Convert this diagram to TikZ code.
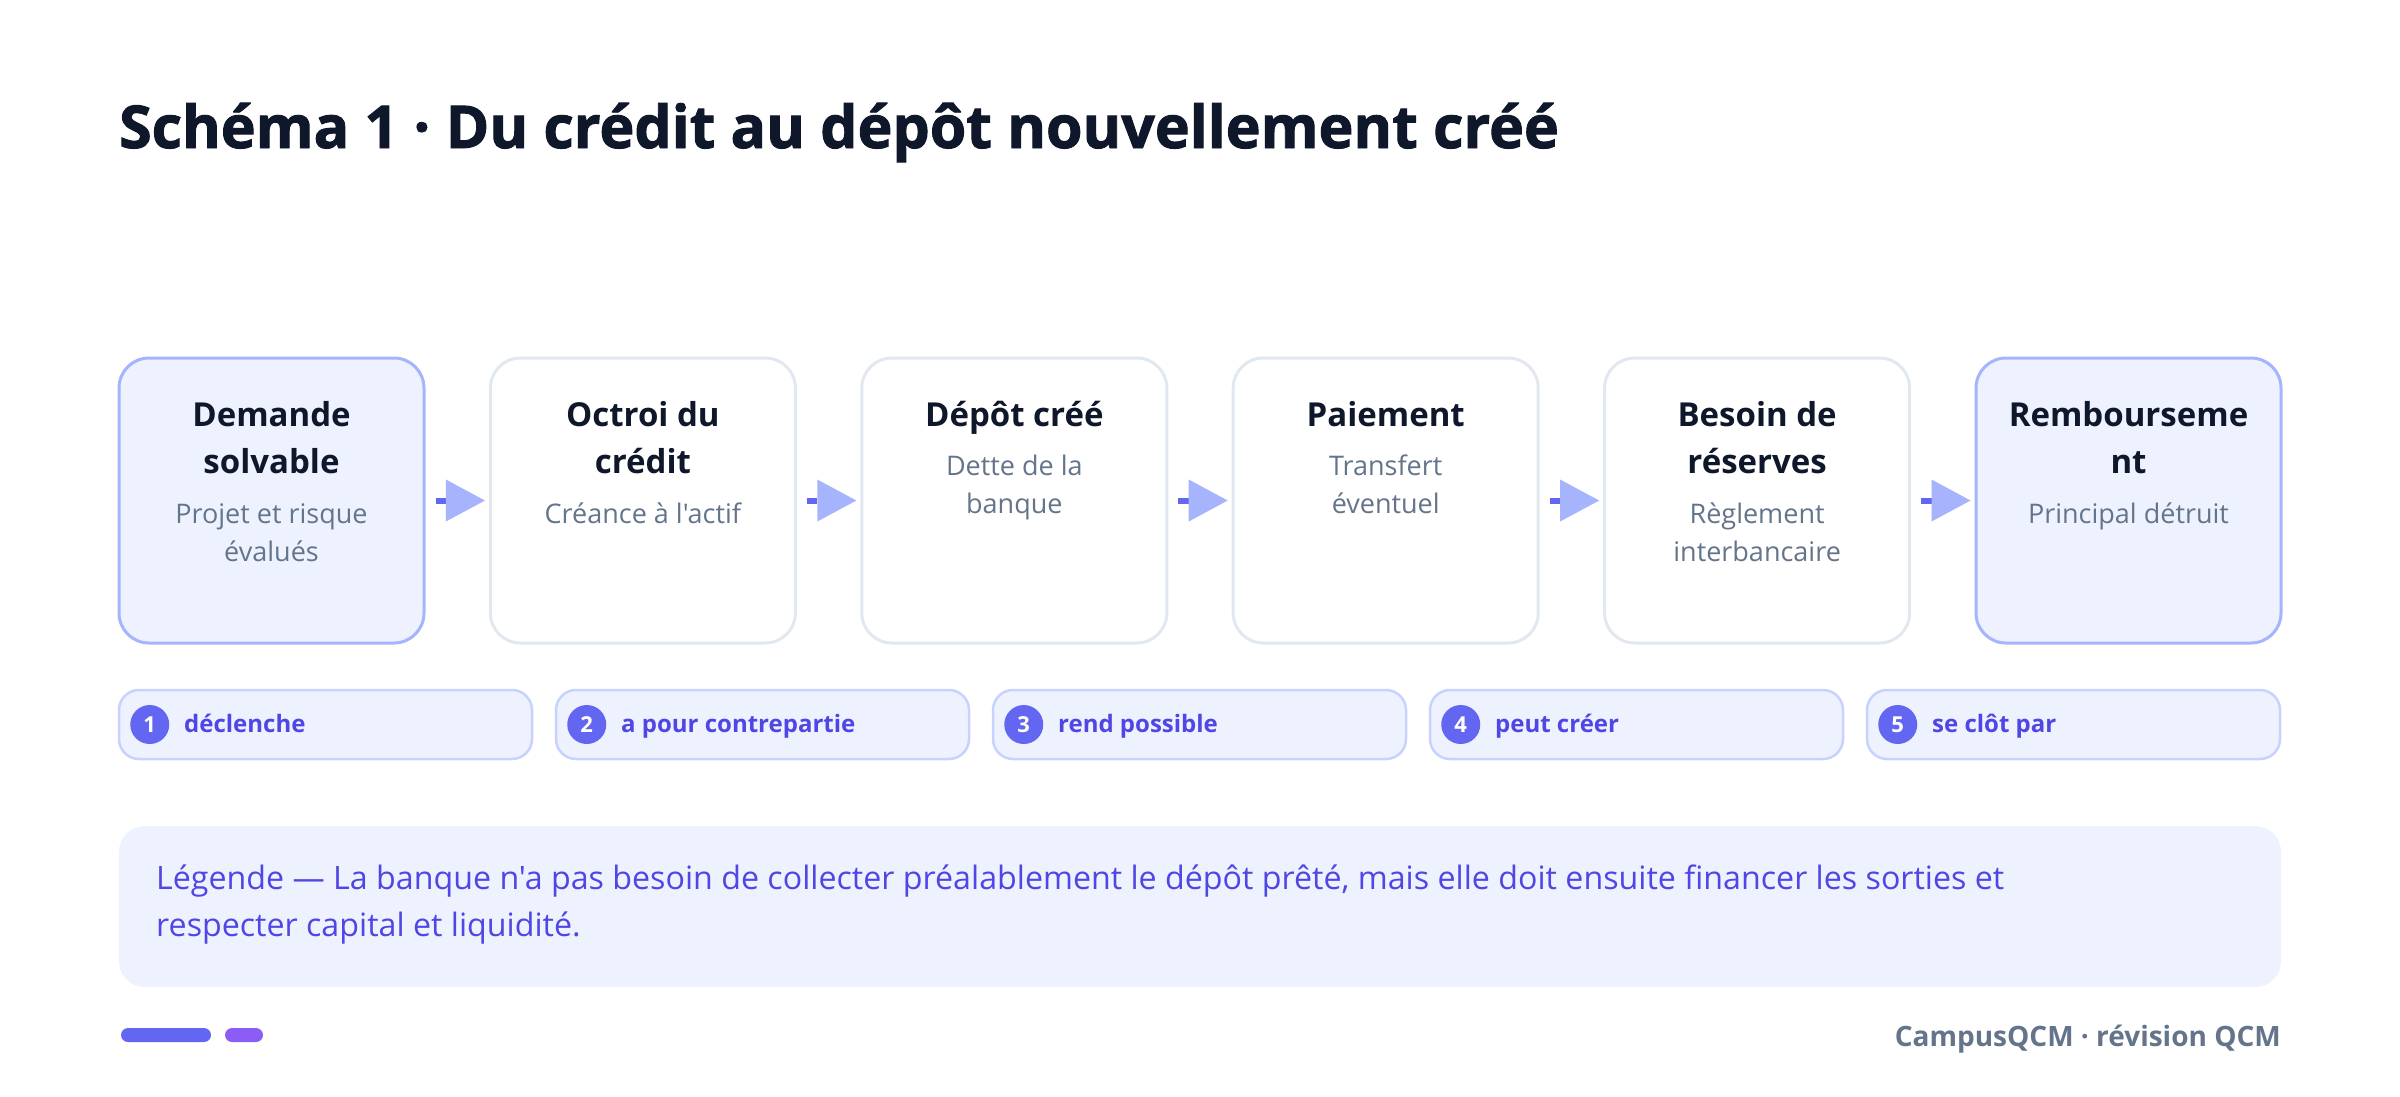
\documentclass[tikz,border=0pt]{standalone}
\usepackage{fontspec}
\setmainfont{Open Sans}[Ligatures=TeXOff]
\newfontfamily\headfont{Open Sans}[Ligatures=TeXOff,BoldFeatures={FakeBold=1.6}]
\usetikzlibrary{arrows.meta,calc}
\definecolor{ink}{HTML}{0F172A}
\definecolor{subc}{HTML}{64748B}
\definecolor{hlfill}{HTML}{EEF2FF}
\definecolor{hldraw}{HTML}{A5B4FC}
\definecolor{plaindraw}{HTML}{E2E8F0}
\definecolor{dashc}{HTML}{6366F1}
\definecolor{tri}{HTML}{A5B4FC}
\definecolor{pilldraw}{HTML}{C7D2FE}
\definecolor{pilltext}{HTML}{4F46E5}
\definecolor{legtext}{HTML}{4F46E5}
\definecolor{barA}{HTML}{6366F1}
\definecolor{barB}{HTML}{8B5CF6}
\newcommand\tstrut{\rule{0pt}{34pt}}
\newcommand\sstrut{\rule{0pt}{30pt}}
\begin{document}
\begin{tikzpicture}[x=1pt,y=-1pt,
  stepbox/.style={draw=plaindraw, line width=3pt, fill=white, rounded corners=30pt,
    minimum width=305pt, minimum height=285pt, inner sep=0pt},
  hlbox/.style={stepbox, draw=hldraw, fill=hlfill},
  ttl/.style={anchor=north, inner sep=0pt, align=center, text=ink,
    font=\fontsize{33}{47}\selectfont\bfseries},
  subt/.style={anchor=north, inner sep=0pt, align=center, text=subc,
    font=\fontsize{27}{38}\selectfont},
  conn/.style={draw=dashc, line width=6pt, shorten <=10pt, shorten >=4pt,
    -{Triangle[length=39pt,width=42pt,color=tri,line width=0pt]}},
  pill/.style={draw=pilldraw, line width=2.5pt, fill=hlfill, rounded corners=20pt,
    minimum width=413pt, minimum height=69pt, inner sep=0pt},
  num/.style={circle, fill=dashc, text=white, minimum size=39pt, inner sep=0pt,
    font=\fontsize{22}{24}\selectfont\bfseries},
  lab/.style={anchor=base west, inner sep=0pt, text=pilltext,
    font=\fontsize{24}{27}\selectfont\bfseries},
  legbox/.style={fill=hlfill, rounded corners=26pt, minimum width=2162pt,
    minimum height=161pt, inner sep=0pt},
  legt/.style={anchor=north west, inner sep=0pt, align=left, text=legtext,
    font=\fontsize{32.2}{47}\selectfont}
]
\useasboundingbox (0,0) rectangle (2400,1096);
\fill[white] (0,0) rectangle (2400,1096);

% title
\node[anchor=base west, inner sep=0pt, text=ink,
  font=\headfont\fontsize{59}{65}\selectfont\bfseries] (title) at (119,148)
  {Schéma 1 · Du crédit au dépôt nouvellement créé};

% step boxes
\node[hlbox]   (b1) at (271.5,500.5) {};
\node[stepbox] (b2) at (642.9,500.5) {};
\node[stepbox] (b3) at (1014.3,500.5) {};
\node[stepbox] (b4) at (1385.7,500.5) {};
\node[stepbox] (b5) at (1757.1,500.5) {};
\node[hlbox]   (b6) at (2128.5,500.5) {};

\node[ttl]  (t1) at (271.5,392) {\tstrut Demande\\solvable};
\node[subt] (s1) at (271.5,493) {\sstrut Projet et risque\\évalués};
\node[ttl]  (t2) at (642.9,392) {\tstrut Octroi du\\crédit};
\node[subt] (s2) at (642.9,493) {\sstrut Créance à l'actif};
\node[ttl]  (t3) at (1014.3,392) {\tstrut Dépôt créé};
\node[subt] (s3) at (1014.3,445) {\sstrut Dette de la\\banque};
\node[ttl]  (t4) at (1385.7,392) {\tstrut Paiement};
\node[subt] (s4) at (1385.7,445) {\sstrut Transfert\\éventuel};
\node[ttl]  (t5) at (1757.1,392) {\tstrut Besoin de\\réserves};
\node[subt] (s5) at (1757.1,493) {\sstrut Règlement\\interbancaire};
\node[ttl]  (t6) at (2128.5,392) {\tstrut Rembourseme\\nt};
\node[subt] (s6) at (2128.5,493) {\sstrut Principal détruit};

\draw[conn] (b1) -- (b2);
\draw[conn] (b2) -- (b3);
\draw[conn] (b3) -- (b4);
\draw[conn] (b4) -- (b5);
\draw[conn] (b5) -- (b6);

% relation pills
\node[pill] (p1) at (325.5,724.5) {};
\node[pill] (p2) at (762.5,724.5) {};
\node[pill] (p3) at (1199.5,724.5) {};
\node[pill] (p4) at (1636.5,724.5) {};
\node[pill] (p5) at (2073.5,724.5) {};
\node[num] (n1) at ($(p1.west)+(32,0)$) {1};
\node[num] (n2) at ($(p2.west)+(32,0)$) {2};
\node[num] (n3) at ($(p3.west)+(32,0)$) {3};
\node[num] (n4) at ($(p4.west)+(32,0)$) {4};
\node[num] (n5) at ($(p5.west)+(32,0)$) {5};
\node[lab] (l1) at (184,732) {déclenche};
\node[lab] (l2) at (621,732) {a pour contrepartie};
\node[lab] (l3) at (1058,732) {rend possible};
\node[lab] (l4) at (1495,732) {peut créer};
\node[lab] (l5) at (1932,732) {se clôt par};

% legend
\node[legbox] (leg) at (1200,906.5) {};
\node[legt] (legtxt) at (156,856) {\rule{0pt}{33pt}Légende — La banque n'a pas besoin de collecter préalablement le dépôt prêté, mais elle doit ensuite financer les sorties et\\respecter capital et liquidité.};

% footer
\fill[barA, rounded corners=7pt] (121,1028) rectangle (211,1042);
\fill[barB, rounded corners=7pt] (225,1028) rectangle (263,1042);
\node[anchor=base east, inner sep=0pt, text=subc,
  font=\fontsize{28}{32}\selectfont\bfseries] (foot) at (2281,1046)
  {CampusQCM · révision QCM};
\end{tikzpicture}
\end{document}
